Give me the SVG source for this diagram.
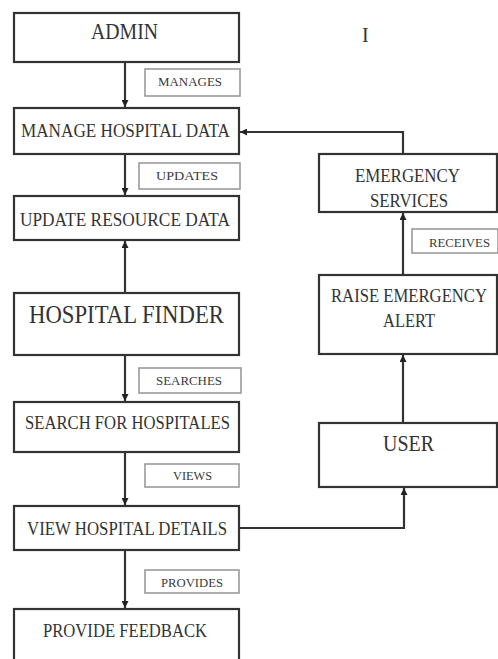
<svg xmlns="http://www.w3.org/2000/svg" width="498" height="659" viewBox="0 0 498 659">
<style>
.box{fill:#fff;stroke:#333;stroke-width:2.2}
.lbl{fill:#fff;stroke:#9a9a9a;stroke-width:1.6}
.t{font-family:"Liberation Serif","Times New Roman",serif;fill:#333;text-anchor:start}
.tl{font-family:"Liberation Serif","Times New Roman",serif;fill:#3a3a3a;font-size:12px}
.c{fill:none;stroke:#333;stroke-width:2.2}
</style>
<defs>
<marker id="ah" viewBox="0 0 10 10" refX="10" refY="5" markerWidth="7" markerHeight="7" markerUnits="userSpaceOnUse" orient="auto">
<path d="M0,0 L10,5 L0,10 z" fill="#222"/>
</marker>
</defs>
<rect width="498" height="659" fill="#fff"/>

<g id="connectors">
<line class="c" x1="125" y1="62" x2="125" y2="107" marker-end="url(#ah)"/>
<line class="c" x1="125" y1="154" x2="125" y2="195" marker-end="url(#ah)"/>
<line class="c" x1="125" y1="293" x2="125" y2="241" marker-end="url(#ah)"/>
<line class="c" x1="125" y1="355" x2="125" y2="401" marker-end="url(#ah)"/>
<line class="c" x1="125" y1="452" x2="125" y2="505" marker-end="url(#ah)"/>
<line class="c" x1="125" y1="550" x2="125" y2="608" marker-end="url(#ah)"/>
<polyline class="c" points="403,154 403,132 240,132" marker-end="url(#ah)"/>
<line class="c" x1="403" y1="275" x2="403" y2="213" marker-end="url(#ah)"/>
<line class="c" x1="403" y1="423" x2="403" y2="355" marker-end="url(#ah)"/>
<polyline class="c" points="239,528 404,528 404,488" marker-end="url(#ah)"/>
</g>

<g id="admin">
<rect class="box" x="14" y="13" width="225" height="49"/>
<text class="t" x="91" y="39" font-size="23" textLength="67" lengthAdjust="spacingAndGlyphs">ADMIN</text>
</g>
<g id="lbl-manages">
<rect class="lbl" x="145" y="69" width="95" height="27"/>
<text class="tl" x="158" y="86" textLength="64" lengthAdjust="spacingAndGlyphs">MANAGES</text>
</g>
<g id="manage-hospital-data">
<rect class="box" x="14" y="108" width="225" height="46"/>
<text class="t" x="21" y="137" font-size="19" textLength="209" lengthAdjust="spacingAndGlyphs">MANAGE HOSPITAL DATA</text>
</g>
<g id="lbl-updates">
<rect class="lbl" x="139" y="163" width="101" height="26"/>
<text class="tl" x="156" y="180" textLength="62" lengthAdjust="spacingAndGlyphs">UPDATES</text>
</g>
<g id="update-resource-data">
<rect class="box" x="14" y="196" width="225" height="44"/>
<text class="t" x="20" y="226" font-size="19" textLength="210" lengthAdjust="spacingAndGlyphs">UPDATE RESOURCE DATA</text>
</g>
<g id="hospital-finder">
<rect class="box" x="14" y="293" width="225" height="62"/>
<text class="t" x="29" y="323" font-size="26" textLength="195" lengthAdjust="spacingAndGlyphs">HOSPITAL FINDER</text>
</g>
<g id="lbl-searches">
<rect class="lbl" x="139" y="368" width="102" height="25"/>
<text class="tl" x="156" y="385" textLength="66" lengthAdjust="spacingAndGlyphs">SEARCHES</text>
</g>
<g id="search-for-hospitales">
<rect class="box" x="14" y="402" width="225" height="50"/>
<text class="t" x="25" y="429" font-size="19" textLength="205" lengthAdjust="spacingAndGlyphs">SEARCH FOR HOSPITALES</text>
</g>
<g id="lbl-views">
<rect class="lbl" x="145" y="464" width="94" height="23"/>
<text class="tl" x="173" y="480" textLength="39" lengthAdjust="spacingAndGlyphs">VIEWS</text>
</g>
<g id="view-hospital-details">
<rect class="box" x="14" y="506" width="225" height="44"/>
<text class="t" x="27" y="535" font-size="19" textLength="200" lengthAdjust="spacingAndGlyphs">VIEW HOSPITAL DETAILS</text>
</g>
<g id="lbl-provides">
<rect class="lbl" x="145" y="570" width="94" height="23"/>
<text class="tl" x="161" y="587" textLength="62" lengthAdjust="spacingAndGlyphs">PROVIDES</text>
</g>
<g id="provide-feedback">
<rect class="box" x="14" y="609" width="225" height="60"/>
<text class="t" x="43" y="637" font-size="19" textLength="164" lengthAdjust="spacingAndGlyphs">PROVIDE FEEDBACK</text>
</g>

<g id="mark">
<text class="t" x="362" y="42" font-size="20">I</text>
</g>

<g id="emergency-services">
<rect class="box" x="319" y="154" width="178" height="58"/>
<text class="t" x="355" y="182" font-size="18" textLength="105" lengthAdjust="spacingAndGlyphs">EMERGENCY</text>
<text class="t" x="370" y="207" font-size="18" textLength="78" lengthAdjust="spacingAndGlyphs">SERVICES</text>
</g>
<g id="lbl-receives">
<rect class="lbl" x="412" y="229" width="86" height="24"/>
<text class="tl" x="429" y="247" textLength="61" lengthAdjust="spacingAndGlyphs">RECEIVES</text>
</g>
<g id="raise-emergency-alert">
<rect class="box" x="319" y="275" width="178" height="79"/>
<text class="t" x="331" y="302" font-size="18" textLength="156" lengthAdjust="spacingAndGlyphs">RAISE EMERGENCY</text>
<text class="t" x="383" y="327" font-size="18" textLength="52" lengthAdjust="spacingAndGlyphs">ALERT</text>
</g>
<g id="user">
<rect class="box" x="319" y="423" width="178" height="64"/>
<text class="t" x="383" y="451" font-size="24" textLength="51" lengthAdjust="spacingAndGlyphs">USER</text>
</g>
</svg>
